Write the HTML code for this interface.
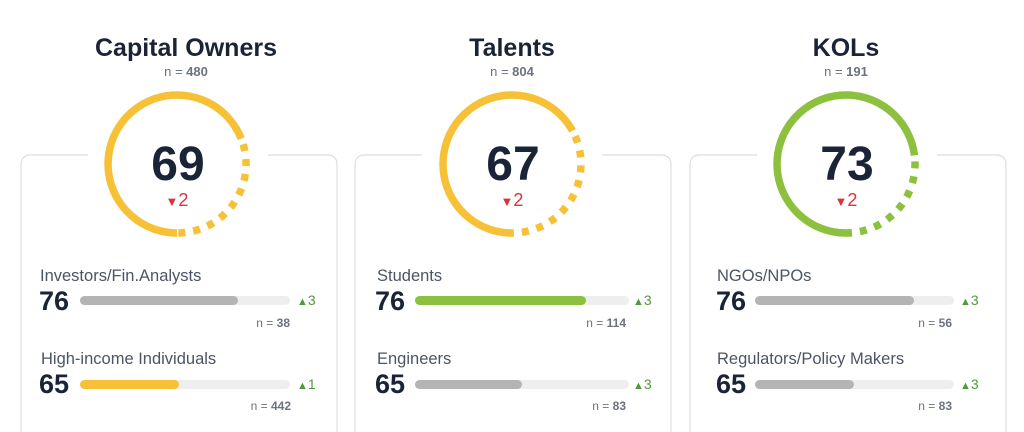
<!DOCTYPE html>
<html><head><meta charset="utf-8"><style>
html,body{margin:0;padding:0;background:#fff;}
svg{display:block;font-family:"Liberation Sans",Arial,sans-serif;}
.t{font-size:25px;font-weight:bold;fill:#1b2437;text-anchor:middle}
.n{font-size:13px;fill:#6b7280;text-anchor:middle}
.big{font-size:48px;font-weight:bold;fill:#1b2437;text-anchor:middle}
.red{font-size:18px;fill:#d9343a;text-anchor:middle}
.lab{font-size:16.5px;fill:#4b5563}
.num{font-size:27px;font-weight:bold;fill:#1b2437}
.gr{font-size:14px;fill:#4f9a3a}
.sn{font-size:12px;fill:#6b7280;text-anchor:end}
</style></head><body>
<svg width="1024" height="432" viewBox="0 0 1024 432">
<defs>
<g id="card">
<path d="M88,155 H31 Q21,155 21,165 V432 M337,432 V165 Q337,155 327,155 H268" fill="none" stroke="#dedede" stroke-width="1.2"/>
</g>
</defs>
<!-- Panel 1 -->
<use href="#card"/>
<text class="t" x="186" y="56">Capital Owners</text>
<text class="n" x="186" y="76">n = <tspan font-weight="bold">480</tspan></text>
<path d="M177,233 A69,69 0 1 1 241.2,138.6" fill="none" stroke="#F7C137" stroke-width="7.5"/>
<path d="M241.2,138.6 A69,69 0 0 1 177,233" fill="none" stroke="#F7C137" stroke-width="7.5" stroke-dasharray="7 8" stroke-dashoffset="-6"/>
<text class="big" x="178" y="180">69</text>
<text class="red" x="177" y="206"><tspan font-size="13">▼</tspan>2</text>
<text class="lab" x="40" y="281">Investors/Fin.Analysts</text>
<text class="num" x="39" y="310">76</text>
<rect x="80" y="296" width="210" height="9" rx="4.5" fill="#eeeeee"/>
<rect x="80" y="296" width="158" height="9" rx="4.5" fill="#b4b4b4"/>
<text class="gr" x="297" y="305"><tspan font-size="11">▲</tspan>3</text>
<text class="sn" x="290" y="327">n = <tspan font-weight="bold">38</tspan></text>
<text class="lab" x="41" y="364">High-income Individuals</text>
<text class="num" x="39" y="393">65</text>
<rect x="80" y="380" width="210" height="9" rx="4.5" fill="#eeeeee"/>
<rect x="80" y="380" width="99" height="9" rx="4.5" fill="#F7C137"/>
<text class="gr" x="297" y="389"><tspan font-size="11">▲</tspan>1</text>
<text class="sn" x="291" y="410">n = <tspan font-weight="bold">442</tspan></text>

<!-- Panel 2 -->
<use href="#card" x="334"/>
<text class="t" x="512" y="56">Talents</text>
<text class="n" x="512" y="76">n = <tspan font-weight="bold">804</tspan></text>
<path d="M512,233 A69,69 0 1 1 572.5,130.8" fill="none" stroke="#F7C137" stroke-width="7.5"/>
<path d="M572.5,130.8 A69,69 0 0 1 512,233" fill="none" stroke="#F7C137" stroke-width="7.5" stroke-dasharray="7 8" stroke-dashoffset="-6"/>
<text class="big" x="513" y="180">67</text>
<text class="red" x="512" y="206"><tspan font-size="13">▼</tspan>2</text>
<text class="lab" x="377" y="281">Students</text>
<text class="num" x="375" y="310">76</text>
<rect x="415" y="296" width="214" height="9" rx="4.5" fill="#eeeeee"/>
<rect x="415" y="296" width="171" height="9" rx="4.5" fill="#8DC03F"/>
<text class="gr" x="633" y="305"><tspan font-size="11">▲</tspan>3</text>
<text class="sn" x="626" y="327">n = <tspan font-weight="bold">114</tspan></text>
<text class="lab" x="377" y="364">Engineers</text>
<text class="num" x="375" y="393">65</text>
<rect x="415" y="380" width="214" height="9" rx="4.5" fill="#eeeeee"/>
<rect x="415" y="380" width="107" height="9" rx="4.5" fill="#b4b4b4"/>
<text class="gr" x="633" y="389"><tspan font-size="11">▲</tspan>3</text>
<text class="sn" x="626" y="410">n = <tspan font-weight="bold">83</tspan></text>

<!-- Panel 3 -->
<use href="#card" x="669"/>
<text class="t" x="846" y="56">KOLs</text>
<text class="n" x="846" y="76">n = <tspan font-weight="bold">191</tspan></text>
<path d="M846,233 A69,69 0 1 1 914.5,155.4" fill="none" stroke="#8DC03F" stroke-width="7.5"/>
<path d="M914.5,155.4 A69,69 0 0 1 846,233" fill="none" stroke="#8DC03F" stroke-width="7.5" stroke-dasharray="7 8" stroke-dashoffset="-6"/>
<text class="big" x="847" y="180">73</text>
<text class="red" x="846" y="206"><tspan font-size="13">▼</tspan>2</text>
<text class="lab" x="717" y="281">NGOs/NPOs</text>
<text class="num" x="716" y="310">76</text>
<rect x="755" y="296" width="199" height="9" rx="4.5" fill="#eeeeee"/>
<rect x="755" y="296" width="159" height="9" rx="4.5" fill="#b4b4b4"/>
<text class="gr" x="960" y="305"><tspan font-size="11">▲</tspan>3</text>
<text class="sn" x="952" y="327">n = <tspan font-weight="bold">56</tspan></text>
<text class="lab" x="717" y="364">Regulators/Policy Makers</text>
<text class="num" x="716" y="393">65</text>
<rect x="755" y="380" width="199" height="9" rx="4.5" fill="#eeeeee"/>
<rect x="755" y="380" width="99" height="9" rx="4.5" fill="#b4b4b4"/>
<text class="gr" x="960" y="389"><tspan font-size="11">▲</tspan>3</text>
<text class="sn" x="952" y="410">n = <tspan font-weight="bold">83</tspan></text>
</svg>
</body></html>
